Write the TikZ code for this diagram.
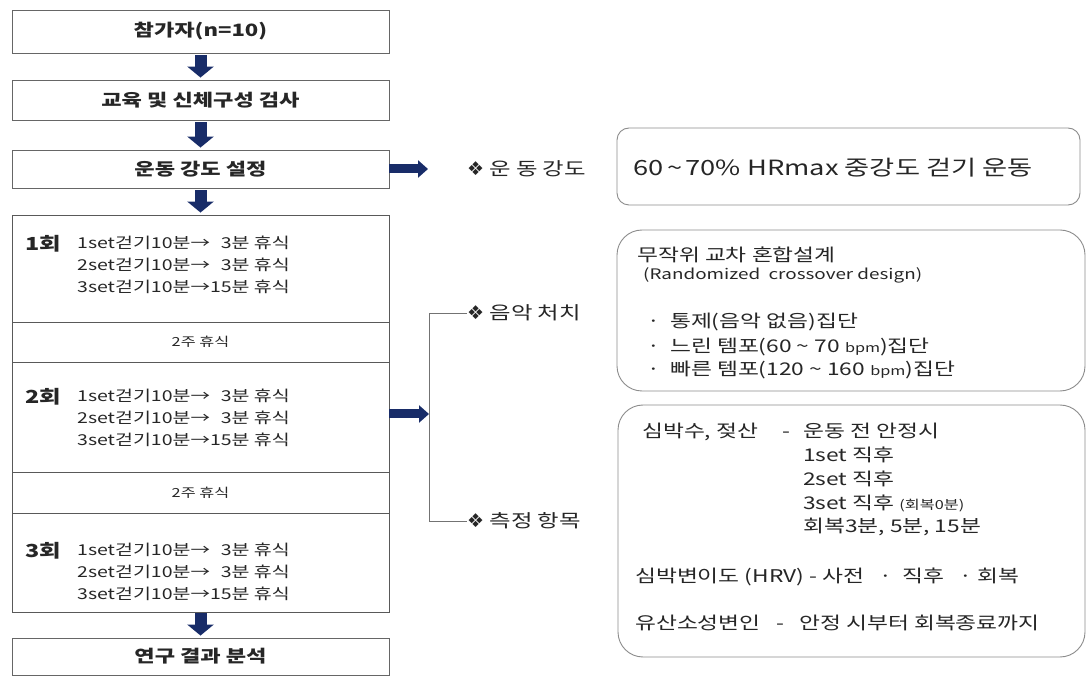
\documentclass[tikz,border=0pt]{standalone}
\usepackage{fontspec}
\setmainfont{Noto Sans CJK KR}[FakeStretch=1.3]
\newfontfamily\dvfont{DejaVu Sans}
\usetikzlibrary{arrows.meta}
\definecolor{navyarr}{RGB}{24,44,104}
\definecolor{txt}{RGB}{38,38,38}
\newcommand{\fsz}[2]{\fontsize{#1pt}{#2pt}\selectfont}
\newcommand{\dia}{{\dvfont\fsz{19}{20}❖}}
\begin{document}
\begin{tikzpicture}[x=1pt,y=-1pt,
  every node/.style={text=txt, inner sep=0pt},
  lbox/.style={draw=black!60, line width=0.9pt, minimum width=377pt, font=\fsz{17}{20}\bfseries},
  sbox/.style={draw=black!65, line width=0.9pt, minimum width=377pt},
  restbox/.style={sbox, font=\fsz{12.5}{15}},
  rbox/.style={draw=black!45, line width=0.9pt},
  downarr/.style={navyarr, line width=12pt, -{Triangle[width=26pt,length=11pt]}},
  rarr/.style={navyarr, line width=9pt, -{Triangle[width=17pt,length=10pt]}},
  bracket/.style={draw=black!55, line width=0.7pt},
  lbl/.style={anchor=west, font=\fsz{18}{21}},
  sess/.style={anchor=west, font=\fsz{18}{22}\bfseries},
  lines/.style={anchor=west, font=\fsz{15}{22}},
  rtext/.style={anchor=west, font=\fsz{17.5}{21}}
]
\useasboundingbox (0,0) rectangle (1088,676);
\fill[white] (0,0) rectangle (1088,676);

% left column
\node[lbox, minimum height=43pt] (b1) at (200.5,31.5) {참가자(n=10)};
\node[lbox, minimum height=40pt] (b2) at (200.5,100) {교육 및 신체구성 검사};
\node[lbox, minimum height=38pt] (b3) at (200.5,169) {운동 강도 설정};
\node[sbox, minimum height=107pt] (s1) at (200.5,268.5) {};
\node[restbox, minimum height=40pt] (r1) at (200.5,342) {2주 휴식};
\node[sbox, minimum height=110pt] (s2) at (200.5,417) {};
\node[restbox, minimum height=41pt] (r2) at (200.5,492.5) {2주 휴식};
\node[sbox, minimum height=99pt] (s3) at (200.5,562.5) {};
\node[lbox, minimum height=37pt] (b4) at (200.5,656.5) {연구 결과 분석};

\node[sess] (l1) at (25,244) {1회};
\node[lines] (t1) at (77,266) {\begin{tabular}{@{}l@{}r@{}l@{}}
1set걷기10분→ & 3 & 분 휴식\\
2set걷기10분→ & 3 & 분 휴식\\
3set걷기10분→ & 15 & 분 휴식
\end{tabular}};
\node[sess] (l2) at (25,397) {2회};
\node[lines] (t2) at (77,419) {\begin{tabular}{@{}l@{}r@{}l@{}}
1set걷기10분→ & 3 & 분 휴식\\
2set걷기10분→ & 3 & 분 휴식\\
3set걷기10분→ & 15 & 분 휴식
\end{tabular}};
\node[sess] (l3) at (25,551) {3회};
\node[lines] (t3) at (77,573) {\begin{tabular}{@{}l@{}r@{}l@{}}
1set걷기10분→ & 3 & 분 휴식\\
2set걷기10분→ & 3 & 분 휴식\\
3set걷기10분→ & 15 & 분 휴식
\end{tabular}};

% down arrows
\draw[downarr] ([yshift=-2pt]b1.south) -- ([yshift=2pt]b2.north);
\draw[downarr] ([yshift=-2pt]b2.south) -- ([yshift=2pt]b3.north);
\draw[downarr] ([yshift=-2pt]b3.south) -- ([yshift=2pt]s1.north);
\draw[downarr] ([yshift=-1pt]s3.south) -- ([yshift=2pt]b4.north);

% middle labels and connectors
\node[lbl] (k1) at (467,169) {\dia\ 운\ 동\ 강도};
\node[lbl] (k2) at (467,313) {\dia\ 음악\ 처치};
\node[lbl] (k3) at (467,521) {\dia\ 측정\ 항목};
\coordinate (c1) at (428,169);
\coordinate (vb) at (429,414);
\draw[rarr] (b3.east) -- (c1);
\draw[rarr] (s2.east |- vb) -- (vb);
\draw[bracket] (k2.west) -- (vb |- k2.west) -- (vb |- k3.west) -- (k3.west);

% right boxes
\node[rbox, rounded corners=12pt, minimum width=463pt, minimum height=77pt] (R1) at (848.5,166.5) {};
\node[anchor=west, font=\fsz{21}{25}] (R1t) at (633,168) {60\,\textasciitilde\,70\% HRmax 중강도 걷기 운동};

\node[rbox, rounded corners=25pt, minimum width=468pt, minimum height=161pt] (R2) at (851,310.5) {};
\node[rtext] (R2a) at (637,255) {무작위 교차 혼합설계};
\node[anchor=west, font=\fsz{14.5}{17}] (R2b) at (643,275) {(Randomized\ \ crossover design)};
\node[rtext] (R2c) at (647,322) {·\ \ 통제(음악 없음)집단};
\node[rtext] (R2d) at (647,347) {·\ \ 느린 템포(60 \textasciitilde{} 70 {\fsz{12.5}{14}bpm})집단};
\node[rtext] (R2e) at (647,370) {·\ \ 빠른 템포(120 \textasciitilde{} 160 {\fsz{12.5}{14}bpm})집단};

\node[rbox, rounded corners=25pt, minimum width=467pt, minimum height=252pt] (R3) at (851.5,531) {};
\node[rtext] (R3a) at (642,432) {\makebox[140pt][l]{심박수, 젖산}\makebox[21pt][l]{-}운동 전 안정시};
\node[rtext] (R3d) at (803,455) {1set 직후};
\node[rtext] (R3e) at (803,479) {2set 직후};
\node[rtext] (R3f) at (803,503) {3set 직후 {\fsz{12.5}{14}(회복0분)}};
\node[rtext] (R3g) at (803,527) {회복3분, 5분, 15분};
\node[rtext] (R3h) at (635,577) {심박변이도 (HRV) - 사전\ \ \ ·\ \ 직후\ \ \ ·\ 회복};
\node[rtext] (R3i) at (635,623) {유산소성변인\ \ \ -\ \ \ 안정 시부터 회복종료까지};
\end{tikzpicture}
\end{document}
